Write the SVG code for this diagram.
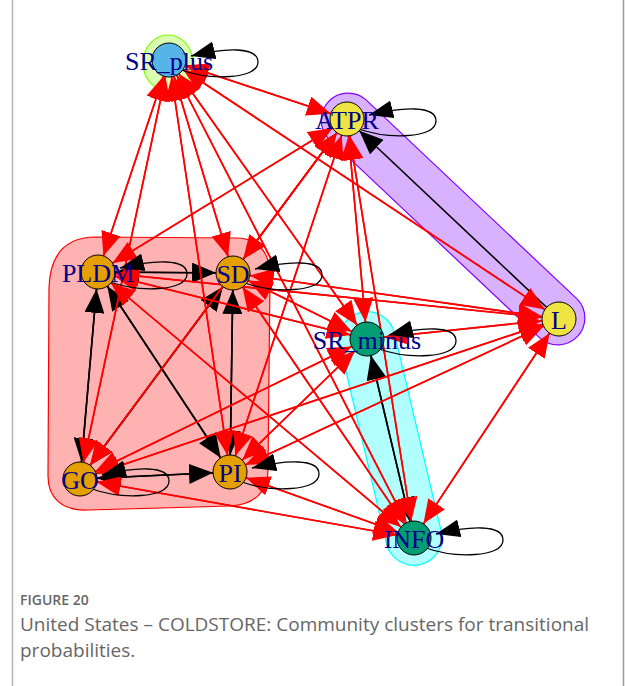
<svg xmlns="http://www.w3.org/2000/svg" width="625" height="686" viewBox="0 0 625 686">
  <style>
    .hull { stroke-width: 1.2; }
    .r { stroke: #ff0000; stroke-width: 1.6; fill: none; marker-end: url(#arR); }
    .k { stroke: #000000; stroke-width: 1.6; fill: none; marker-end: url(#arK); }
    .loop { stroke: #000000; stroke-width: 1.3; fill: none; marker-end: url(#arL); }
    .node circle { stroke: #000000; stroke-width: 1; }
    .node text { font-family: "Liberation Serif", "Times New Roman", serif; font-size: 26px; fill: #00008b; text-anchor: middle; }
    .cap { font-family: "Open Sans", "Liberation Sans", sans-serif; fill: #666666; }
  </style>
  <defs>
    <!-- arrowheads for straight edges: tip sits 17px before the target centre -->
    <marker id="arR" markerUnits="userSpaceOnUse" viewBox="0 0 41 20" markerWidth="41" markerHeight="20" refX="41" refY="10" orient="auto">
      <path d="M0,0 L24,10 L0,20 Z" fill="#ff0000"/>
    </marker>
    <marker id="arK" markerUnits="userSpaceOnUse" viewBox="0 0 41 20" markerWidth="41" markerHeight="20" refX="41" refY="10" orient="auto">
      <path d="M0,0 L24,10 L0,20 Z" fill="#000000"/>
    </marker>
    <!-- arrowhead for self-loops: tip at the path end -->
    <marker id="arL" markerUnits="userSpaceOnUse" viewBox="0 0 24 18" markerWidth="24" markerHeight="18" refX="24" refY="9" orient="auto">
      <path d="M0,0 L24,9 L0,18 Z" fill="#000000"/>
    </marker>
  </defs>

  <rect width="625" height="686" fill="#ffffff"/>
  <!-- frame rules -->
  <line x1="12.5" y1="0" x2="12.5" y2="686" stroke="#b4b4b4" stroke-width="1.5"/>
  <line x1="623.5" y1="0" x2="623.5" y2="686" stroke="#9a9a9a" stroke-width="1.5"/>

  <!-- community hulls -->
  <g id="hulls">
    <ellipse class="hull" cx="168" cy="63" rx="25" ry="28" fill="#80ff00" fill-opacity="0.3" stroke="#80ff00"/>
    <path class="hull" d="M365.5 99.4 L577.5 299.4 A27 27 0 0 1 540.5 338.6 L328.5 138.6 A27 27 0 0 1 365.5 99.4 Z" fill="#8000ff" fill-opacity="0.3" stroke="#8000ff"/>
    <path class="hull" d="M394.3 332.6 L441.3 531.6 A28 28 0 0 1 386.8 544.4 L339.8 345.4 A28 28 0 0 1 394.3 332.6 Z" fill="#00ffff" fill-opacity="0.3" stroke="#00ffff"/>
    <path class="hull" d="M96 237 L236 238 C258 238 270 252 270 276 L268 470 C268 492 254 505 230 506 L88 510 C62 511 48 498 48 476 L49 288 C50 254 66 237 96 237 Z" fill="#ff0000" fill-opacity="0.3" stroke="#ff0000"/>
  </g>

  <g id="connectors">
    <!-- edges inside communities -->
    <path class="k" d="M559 319L347 119"/>
    <path class="k" d="M98 272L233 273"/><path class="k" d="M233 273L98 272"/>
    <path class="k" d="M80 479L98 272"/><path class="k" d="M98 272L80 479"/>
    <path class="k" d="M98 272L230 472"/><path class="k" d="M230 472L98 272"/>
    <path class="k" d="M80 479L233 273"/><path class="k" d="M233 273L80 479"/>
    <path class="k" d="M230 472L233 273"/><path class="k" d="M233 273L230 472"/>
    <path class="k" d="M80 479L230 472"/><path class="k" d="M230 472L80 479"/>
    <path class="k" d="M414 538L367 339"/><path class="k" d="M367 339L414 538"/>
    <!-- edges between communities -->
    <path class="r" d="M169 60L347 119"/><path class="r" d="M347 119L169 60"/>
    <path class="r" d="M169 60L98 272"/><path class="r" d="M98 272L169 60"/>
    <path class="r" d="M169 60L233 273"/><path class="r" d="M233 273L169 60"/>
    <path class="r" d="M169 60L367 339"/><path class="r" d="M367 339L169 60"/>
    <path class="r" d="M169 60L559 319"/><path class="r" d="M559 319L169 60"/>
    <path class="r" d="M169 60L80 479"/><path class="r" d="M80 479L169 60"/>
    <path class="r" d="M169 60L230 472"/><path class="r" d="M230 472L169 60"/>
    <path class="r" d="M169 60L414 538"/><path class="r" d="M414 538L169 60"/>
    <path class="r" d="M347 119L98 272"/><path class="r" d="M98 272L347 119"/>
    <path class="r" d="M347 119L233 273"/><path class="r" d="M233 273L347 119"/>
    <path class="r" d="M347 119L367 339"/><path class="r" d="M367 339L347 119"/>
    <path class="r" d="M347 119L80 479"/><path class="r" d="M80 479L347 119"/>
    <path class="r" d="M347 119L230 472"/><path class="r" d="M230 472L347 119"/>
    <path class="r" d="M347 119L414 538"/><path class="r" d="M414 538L347 119"/>
    <path class="r" d="M98 272L367 339"/><path class="r" d="M367 339L98 272"/>
    <path class="r" d="M98 272L559 319"/><path class="r" d="M559 319L98 272"/>
    <path class="r" d="M98 272L414 538"/><path class="r" d="M414 538L98 272"/>
    <path class="r" d="M233 273L367 339"/><path class="r" d="M367 339L233 273"/>
    <path class="r" d="M233 273L559 319"/><path class="r" d="M559 319L233 273"/>
    <path class="r" d="M233 273L414 538"/><path class="r" d="M414 538L233 273"/>
    <path class="r" d="M367 339L559 319"/><path class="r" d="M559 319L367 339"/>
    <path class="r" d="M367 339L80 479"/><path class="r" d="M80 479L367 339"/>
    <path class="r" d="M367 339L230 472"/><path class="r" d="M230 472L367 339"/>
    <path class="r" d="M559 319L80 479"/><path class="r" d="M80 479L559 319"/>
    <path class="r" d="M559 319L230 472"/><path class="r" d="M230 472L559 319"/>
    <path class="r" d="M559 319L414 538"/><path class="r" d="M414 538L559 319"/>
    <path class="r" d="M80 479L414 538"/><path class="r" d="M414 538L80 479"/>
    <path class="r" d="M230 472L414 538"/><path class="r" d="M414 538L230 472"/>
    <!-- self-loops -->
    <path class="loop" d="M181 70 C209 80 258 80 258 62 C258 46 224 48 191 56"/>
    <path class="loop" d="M359 129 C387 139 436 139 436 121 C436 105 402 107 369 115"/>
    <path class="loop" d="M110 282 C138 292 187 292 187 274 C187 258 153 260 120 268"/>
    <path class="loop" d="M245 283 C273 293 322 293 322 275 C322 259 288 261 255 269"/>
    <path class="loop" d="M379 349 C407 359 456 359 456 341 C456 325 422 327 389 335"/>
    <path class="loop" d="M92 489 C120 499 169 499 169 481 C169 465 135 467 102 475"/>
    <path class="loop" d="M242 482 C270 492 319 492 319 474 C319 458 285 460 252 468"/>
    <path class="loop" d="M426 548 C454 558 503 558 503 540 C503 524 469 526 436 534"/>
  </g>

  <g id="SR_plus" class="node"><circle cx="169" cy="60" r="17" fill="#56b4e9"/><text x="169" y="70">SR_plus</text></g>
  <g id="ATPR" class="node"><circle cx="347" cy="119" r="17" fill="#f0e442"/><text x="347" y="129">ATPR</text></g>
  <g id="PLDM" class="node"><circle cx="98" cy="272" r="17" fill="#e69f00"/><text x="98" y="282">PLDM</text></g>
  <g id="SD" class="node"><circle cx="233" cy="273" r="17" fill="#e69f00"/><text x="233" y="283">SD</text></g>
  <g id="SR_minus" class="node"><circle cx="367" cy="339" r="17" fill="#009e73"/><text x="367" y="349">SR_minus</text></g>
  <g id="L" class="node"><circle cx="559" cy="319" r="17" fill="#f0e442"/><text x="559" y="329">L</text></g>
  <g id="GO" class="node"><circle cx="80" cy="479" r="17" fill="#e69f00"/><text x="80" y="489">GO</text></g>
  <g id="PI" class="node"><circle cx="230" cy="472" r="17" fill="#e69f00"/><text x="230" y="482">PI</text></g>
  <g id="INFO" class="node"><circle cx="414" cy="538" r="17" fill="#009e73"/><text x="414" y="548">INFO</text></g>

  <g id="caption">
    <text class="cap" x="20" y="605" font-size="14" font-weight="600">FIGURE 20</text>
    <text class="cap" x="20" y="631" font-size="19">United States – COLDSTORE: Community clusters for transitional</text>
    <text class="cap" x="20" y="657" font-size="19">probabilities.</text>
  </g>
</svg>
